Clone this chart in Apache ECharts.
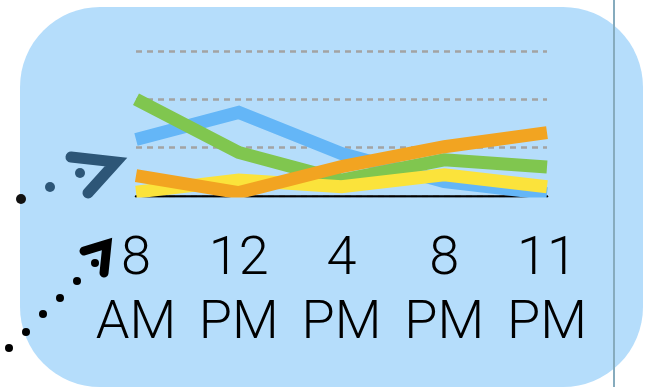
<!DOCTYPE html>
<html>
<head>
<meta charset="utf-8">
<script src="https://cdn.jsdelivr.net/npm/echarts@6/dist/echarts.min.js"></script>
<style>
  html, body { margin: 0; padding: 0; background: #fff; }
  #chart { width: 652px; height: 387px; }
</style>
</head>
<body>
<div id="chart"></div>
<script>
// 时间刻度
const hours = ['8 AM', '12 PM', '4 PM', '8 PM', '11 PM']

// 各条线的数值
const blueValues = [1.17, 1.73, 0.88, 0.3, 0.05]
const greenValues = [2.0, 0.9, 0.33, 0.75, 0.6]
const yellowValues = [0.08, 0.33, 0.19, 0.44, 0.19]
const orangeValues = [0.42, 0.07, 0.61, 1.02, 1.31]

const bg = '#b5ddfb'

function lineSeries(name, color, data) {
  return {
    name: name,
    type: 'line',
    data: data,
    symbol: 'none',
    lineStyle: { color: color, width: 13, cap: 'butt', join: 'miter' },
    animation: false,
  }
}

const chart = echarts.init(document.getElementById('chart'))
chart.setOption({
  backgroundColor: '#fff',
  animation: false,
  grid: { left: 136, right: 105, top: 51, bottom: 191 },
  xAxis: {
    type: 'category',
    data: hours,
    boundaryGap: false,
    axisLine: { lineStyle: { color: '#000', width: 2.5 } },
    axisTick: { show: false },
    axisLabel: {
      interval: 0,
      hideOverlap: false,
      margin: 32,
      color: '#000',
      fontFamily: 'Roboto',
      fontWeight: 300,
      fontSize: 54,
      lineHeight: 64,
      formatter: (v) => v.replace(' ', '\n'),
    },
  },
  yAxis: {
    type: 'value',
    min: 0,
    max: 3,
    interval: 1,
    axisLine: { show: false },
    axisTick: { show: false },
    axisLabel: { show: false },
    splitLine: { lineStyle: { color: '#a3a3a3', width: 2.5, type: [6, 5] } },
  },
  series: [
    lineSeries('blue', '#64b6f7', blueValues),
    lineSeries('green', '#80c64f', greenValues),
    lineSeries('yellow', '#fbe33b', yellowValues),
    lineSeries('orange', '#f2a421', orangeValues),
  ],
  graphic: [
    // 背景圆角框
    { type: 'rect', z: -10, shape: { x: 20, y: 7, width: 623, height: 380, r: 80 }, style: { fill: bg } },
    // 遮住基线以下的线条
    { type: 'rect', z: 100, shape: { x: 120, y: 197.5, width: 440, height: 8 }, style: { fill: bg } },
    // 右侧竖线
    { type: 'line', z: 100, shape: { x1: 614, y1: 0, x2: 614, y2: 387 }, style: { stroke: '#86abbd', lineWidth: 2 } },
    // 深蓝箭头
    { type: 'polyline', z: 100, shape: { points: [[71, 157], [116, 162], [88, 193]] },
      style: { stroke: '#2d5677', lineWidth: 11, lineCap: 'round', lineJoin: 'miter', fill: null } },
    { type: 'circle', z: 100, shape: { cx: 80, cy: 173, r: 5 }, style: { fill: '#2d5677' } },
    { type: 'circle', z: 100, shape: { cx: 50, cy: 187, r: 5 }, style: { fill: '#2d5677' } },
    { type: 'circle', z: 100, shape: { cx: 21, cy: 199, r: 5 }, style: { fill: '#111' } },
    // 黑色箭头
    { type: 'polyline', z: 100, shape: { points: [[84, 251], [107, 244], [104, 273]] },
      style: { stroke: '#000', lineWidth: 9, lineCap: 'round', lineJoin: 'miter', fill: null } },
    { type: 'circle', z: 100, shape: { cx: 95, cy: 263, r: 4 }, style: { fill: '#000' } },
    { type: 'circle', z: 100, shape: { cx: 77, cy: 281, r: 4 }, style: { fill: '#000' } },
    { type: 'circle', z: 100, shape: { cx: 60, cy: 298, r: 4 }, style: { fill: '#000' } },
    { type: 'circle', z: 100, shape: { cx: 43, cy: 314, r: 4 }, style: { fill: '#000' } },
    { type: 'circle', z: 100, shape: { cx: 26, cy: 332, r: 4 }, style: { fill: '#000' } },
    { type: 'circle', z: 100, shape: { cx: 9, cy: 348, r: 4 }, style: { fill: '#000' } },
  ],
})
</script>
</body>
</html>
